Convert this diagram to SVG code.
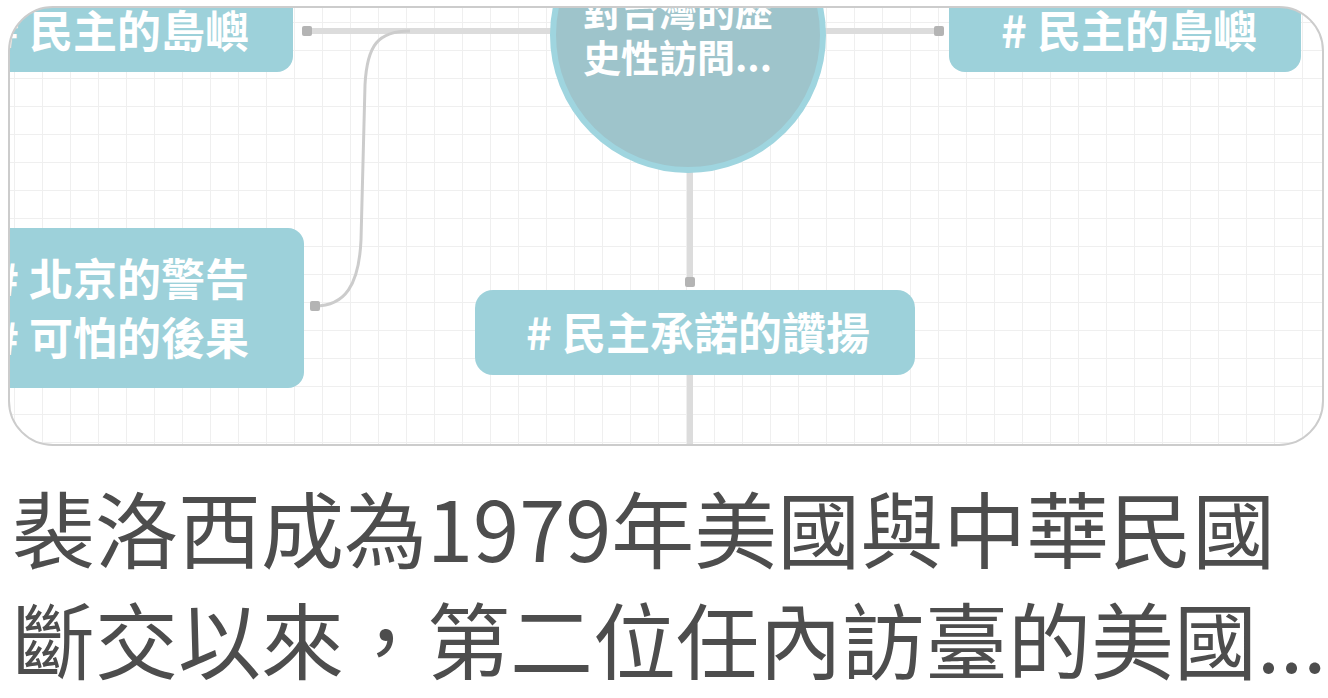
<svg xmlns="http://www.w3.org/2000/svg" width="1328" height="698" viewBox="0 0 1328 698">
<defs>
<style>
.node{fill:#9dd1da}
.nt{font-family:"Noto Sans CJK TC","Noto Sans CJK SC",sans-serif;font-size:44px;font-weight:700;fill:#ffffff}
.ct{font-size:38px;text-anchor:start}
.cap{font-family:"Noto Sans CJK TC","Noto Sans CJK SC",sans-serif;font-size:83px;fill:#4d4d4d}
.link{fill:none;stroke:#dcdcdc;stroke-width:6}
.curve{fill:none;stroke:#cccccc;stroke-width:3}
.dot{fill:#b4b4b4}
</style>
<clipPath id="cardclip"><rect x="9" y="7" width="1314" height="438" rx="44"/></clipPath>
<pattern id="grid" width="28" height="28" patternUnits="userSpaceOnUse" x="14" y="22">
<path d="M0.5 0V28M0 0.5H28" stroke="#efefef" stroke-width="1" fill="none"/>
</pattern>
</defs>
<rect width="1328" height="698" fill="#ffffff"/>
<g clip-path="url(#cardclip)">
<rect x="9" y="7" width="1314" height="438" fill="#ffffff"/>
<rect x="9" y="7" width="1314" height="438" fill="url(#grid)"/>
<g id="connectors">
<path class="link" d="M307 31H560"/>
<path class="link" d="M815 31H939"/>
<path class="link" d="M690 170V282"/>
<path class="link" d="M690 375V450"/>
<path class="curve" d="M410 31C378 31 367 45 365 85L361 240C359 285 345 306 315 306"/>
<rect class="dot" x="302" y="26" width="10" height="10" rx="2"/>
<rect class="dot" x="934" y="26" width="10" height="10" rx="2"/>
<rect class="dot" x="310" y="301" width="10" height="10" rx="2"/>
<rect class="dot" x="685" y="277" width="10" height="10" rx="2"/>
</g>
<g id="node-tl">
<rect class="node" x="-40" y="-30" width="333" height="102" rx="16"/>
<text class="nt" x="249" y="48" text-anchor="end"># 民主的島嶼</text>
</g>
<g id="node-tr">
<rect class="node" x="949" y="-30" width="352" height="102" rx="16"/>
<text class="nt" x="1257" y="48" text-anchor="end"># 民主的島嶼</text>
</g>
<g id="node-left">
<rect class="node" x="-40" y="228" width="344" height="160" rx="16"/>
<text class="nt" x="249" y="296" text-anchor="end"># 北京的警告</text>
<text class="nt" x="249" y="355" text-anchor="end"># 可怕的後果</text>
</g>
<g id="node-bottom">
<rect class="node" x="475" y="290" width="440" height="85" rx="18"/>
<text class="nt" x="870" y="350" text-anchor="end"># 民主承諾的讚揚</text>
</g>
<g id="node-center">
<circle cx="688" cy="35" r="135" fill="#9ec4cb" stroke="#9fd5df" stroke-width="6"/>
<text class="nt ct" x="583" y="26">對台灣的歷</text>
<text class="nt ct" x="583" y="72">史性訪問...</text>
</g>
</g>
<rect x="9" y="7" width="1314" height="438" rx="44" fill="none" stroke="#cccccc" stroke-width="2"/>
<g id="caption">
<text class="cap" x="12" y="562">裴洛西成為1979年美國與中華民國</text>
<text class="cap" x="12" y="673">斷交以來，第二位任內訪臺的美國...</text>
</g>
</svg>
